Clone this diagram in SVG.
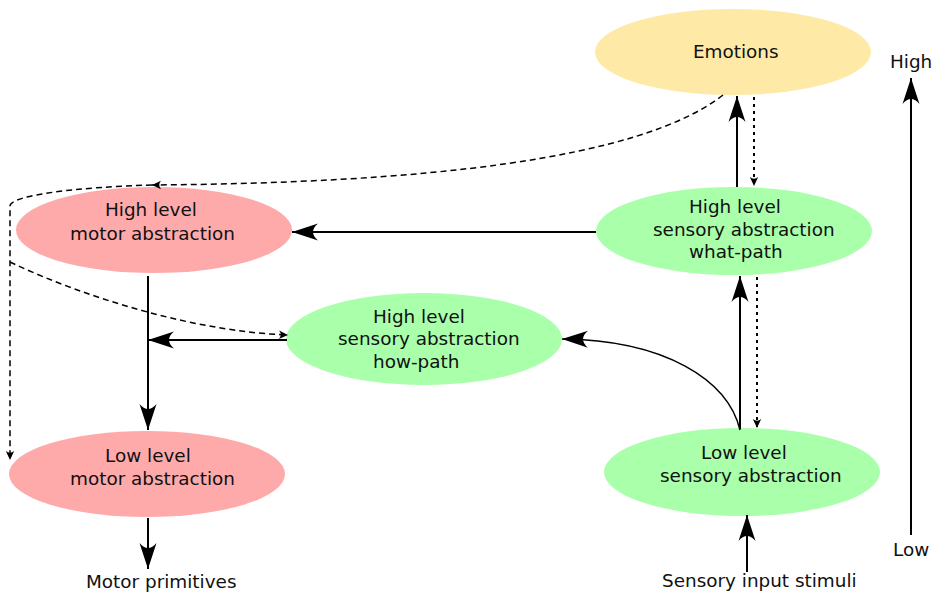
<svg xmlns="http://www.w3.org/2000/svg" width="936" height="597" viewBox="0 0 936 597">
<style>
text{font-family:"DejaVu Sans","Liberation Sans",sans-serif;font-size:18.4px;fill:#111}
.solid{fill:none;stroke:#000;stroke-width:2}
.thin{fill:none;stroke:#000;stroke-width:1.5}
.dash{fill:none;stroke:#000;stroke-width:1.5;stroke-dasharray:6,4}
.dot{fill:none;stroke:#000;stroke-width:2;stroke-dasharray:3,4}
.red{fill:#ffaaaa}.green{fill:#aaffaa}.yellow{fill:#feeaa6}
</style>
<defs>
<marker id="big" markerUnits="userSpaceOnUse" markerWidth="30" markerHeight="20" viewBox="-27 -10 30 20" refX="0" refY="0" orient="auto">
<path d="M0 0 L-26 -8.5 Q-16 0 -26 8.5 Z" fill="#000"/>
</marker>
<marker id="small" markerUnits="userSpaceOnUse" markerWidth="14" markerHeight="12" viewBox="-11 -6 14 12" refX="0" refY="0" orient="auto">
<path d="M0 0 L-9 -4.2 Q-5.5 0 -9 4.2 Z" fill="#000"/>
</marker>
</defs>
<g id="emotions"><ellipse class="yellow" cx="733" cy="52" rx="138" ry="43"/><text x="693" y="58">Emotions</text></g>
<g id="high-motor"><ellipse class="red" cx="154" cy="230" rx="138" ry="43"/><text x="105" y="216">High level</text><text x="70" y="240">motor abstraction</text></g>
<g id="what-path"><ellipse class="green" cx="734" cy="231" rx="138" ry="44"/><text x="689" y="213">High level</text><text x="653" y="236">sensory abstraction</text><text x="689" y="258">what-path</text></g>
<g id="how-path"><ellipse class="green" cx="424" cy="339" rx="138" ry="46"/><text x="373" y="323">High level</text><text x="338" y="345">sensory abstraction</text><text x="373" y="368">how-path</text></g>
<g id="low-motor"><ellipse class="red" cx="147" cy="474" rx="138" ry="43"/><text x="105" y="462">Low level</text><text x="70" y="485">motor abstraction</text></g>
<g id="low-sensory"><ellipse class="green" cx="742" cy="472" rx="138" ry="44"/><text x="701" y="459">Low level</text><text x="660" y="482">sensory abstraction</text></g>
<g id="motor-primitives"><text x="86" y="588">Motor primitives</text></g>
<g id="sensory-input"><text x="662" y="587">Sensory input stimuli</text></g>
<g id="scale"><text x="890" y="68">High</text><text x="893" y="556">Low</text></g>
<g id="connectors">
<path class="solid" d="M737 187 L737 96" marker-end="url(#big)"/>
<path class="dot" d="M754 97 L754 186" marker-end="url(#small)"/>
<path class="solid" d="M596 232 L292 232" marker-end="url(#big)"/>
<path class="solid" d="M740 429 L740 276" marker-end="url(#big)"/>
<path class="dot" d="M757 277 L757 428" marker-end="url(#small)"/>
<path class="thin" d="M740 430 C728 380 665 340 562 339" marker-end="url(#big)"/>
<path class="solid" d="M287 340 L148 340" marker-end="url(#big)"/>
<path class="solid" d="M148 276 L148 430" marker-end="url(#big)"/>
<path class="solid" d="M148 518 L148 569" marker-end="url(#big)"/>
<path class="solid" d="M747 572 L747 515" marker-end="url(#big)"/>
<path class="solid" d="M911 535 L911 78" marker-end="url(#big)"/>
<path class="dash" d="M723 95 C640 160 420 183 152 185" marker-end="url(#small)"/>
<path class="dash" d="M152 185 C80 187 10 195 10 206 L10 460" marker-end="url(#small)"/>
<path class="dash" d="M10 262 C90 300 200 332 288 335" marker-end="url(#small)"/>
</g>
</svg>
